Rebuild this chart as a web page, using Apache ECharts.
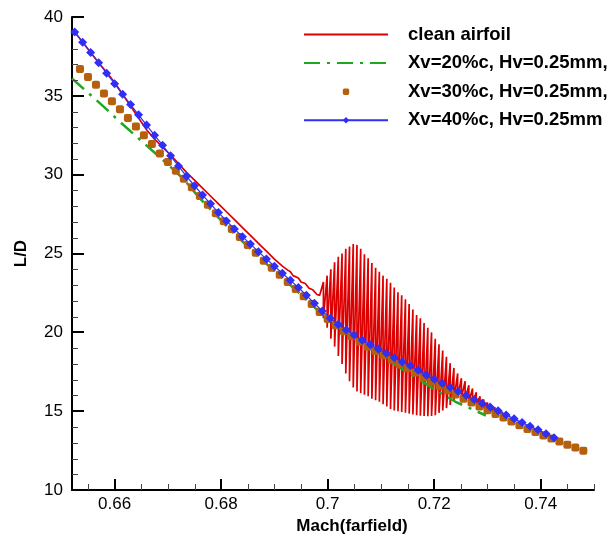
<!DOCTYPE html>
<html>
<head>
<meta charset="utf-8">
<script src="https://cdn.jsdelivr.net/npm/echarts@6/dist/echarts.min.js"></script>
<style>html,body{margin:0;padding:0;background:#fff}#c{width:614px;height:540px}</style>
</head>
<body>
<div id="c"></div>
<script>
const FONT = '"Liberation Sans", Arial, Helvetica, sans-serif';

const seriesNames = ['clean airfoil', 'Xv=20%c, Hv=0.25mm,', 'Xv=30%c, Hv=0.25mm,', 'Xv=40%c, Hv=0.25mm'];
const xTickValues = [0.66, 0.68, 0.70, 0.72, 0.74];
const yTickValues = [10, 15, 20, 25, 30, 35, 40];

// clean airfoil: smooth part
const machCleanSmooth = [0.6525,0.654,0.6555,0.657,0.6585,0.66,0.6615,0.663,0.6645,0.666,0.6675,0.669,0.6705,0.672,0.6735,0.675,0.6765,0.678,0.6795,0.681,0.6825,0.684,0.6855,0.687,0.6885,0.69,0.6915,0.6925,0.693,0.6935,0.6945,0.695,0.6958,0.6965,0.6972,0.698,0.6985];
const ldCleanSmooth = [39.05,38.4,37.75,37.1,36.5,35.85,35.1,34.35,33.6,32.85,32.25,31.75,31.25,30.7,30.15,29.65,29.15,28.65,28.15,27.65,27.15,26.65,26.15,25.65,25.15,24.65,24.2,23.95,23.85,23.6,23.45,23.2,23.1,22.8,22.7,22.4,22.35];
// clean airfoil: oscillating part (peak and trough at each Mach step)
const machCleanOsc = [0.6992,0.6999,0.7006,0.7013,0.7020,0.7027,0.7034,0.7041,0.7048,0.7055,
  0.7062,0.7069,0.7076,0.7083,0.7090,0.7097,0.7104,0.7111,0.7118,0.7125,
  0.7132,0.7139,0.7146,0.7153,0.7160,0.7167,0.7174,0.7181,0.7188,0.7195,
  0.7202,0.7209,0.7216,0.7223,0.7230,0.7237,0.7244,0.7251,0.7258,0.7265,
  0.7272,0.7279,0.7286,0.7293,0.7300,0.7307,0.7314,0.7321,0.7328,0.7335];
const ldCleanPeak = [23.2,23.6,24.0,24.45,24.8,25.0,25.3,25.45,25.6,25.55,
  25.3,24.95,24.7,24.4,24.1,23.85,23.6,23.4,23.15,22.85,
  22.55,22.35,22.1,21.8,21.45,21.1,20.9,20.6,20.3,20.0,
  19.6,19.25,18.85,18.45,18.05,17.75,17.4,17.1,16.9,16.65,
  16.45,16.2,15.95,15.75,15.55,15.35,15.25,15.1,14.95,14.85];
const ldCleanTrough = [20.9,20.3,19.6,19.1,18.5,18.0,17.4,16.9,16.5,16.25,
  16.15,16.05,15.95,15.8,15.7,15.6,15.45,15.3,15.15,15.05,
  15.0,14.95,14.9,14.85,14.8,14.75,14.72,14.7,14.68,14.7,
  14.75,14.9,15.05,15.2,15.4,15.7,15.9,15.85,15.75,15.6,
  15.5,15.4,15.3,15.2,15.1,15.0,14.95,14.85,14.75,14.7];

// Xv=20%c
const machXv20 = [0.652,0.655,0.658,0.661,0.664,0.667,0.670,0.673,0.676,0.679,0.682,0.685,0.688,0.691,0.694,0.697,0.700,0.703,0.706,0.709,0.712,0.715,0.718,0.721,0.724,0.727,0.7297];
const ldXv20 = [36.1,35.2,34.3,33.35,32.45,31.55,30.65,29.7,28.5,27.45,26.4,25.45,24.5,23.6,22.7,21.75,20.85,20.1,19.4,18.75,18.1,17.45,16.83,16.2,15.6,15.15,14.73];

// Xv=30%c
const machXv30 = [0.6535,0.655,0.6565,0.658,0.6595,0.661,0.6625,0.664,0.6655,0.667,
  0.6685,0.67,0.6715,0.673,0.6745,0.676,0.6775,0.679,0.6805,0.682,
  0.6835,0.685,0.6865,0.688,0.6895,0.691,0.6925,0.694,0.6955,0.697,
  0.6985,0.7,0.7015,0.703,0.7045,0.706,0.7075,0.709,0.7105,0.712,
  0.7135,0.715,0.7165,0.718,0.7195,0.721,0.7225,0.724,0.7255,0.727,
  0.7285,0.73,0.7315,0.733,0.7345,0.736,0.7375,0.739,0.7405,0.742,
  0.7435,0.745,0.7465,0.748];
const ldXv30 = [36.7,36.2,35.7,35.15,34.65,34.15,33.6,33.05,32.5,31.95,
  31.35,30.8,30.25,29.75,29.2,28.65,28.1,27.55,27.05,26.55,
  26.05,25.55,25.05,24.55,24.1,23.65,23.2,22.75,22.3,21.8,
  21.3,20.85,20.45,20.08,19.75,19.4,19.1,18.82,18.55,18.27,
  17.98,17.72,17.45,17.15,16.87,16.6,16.33,16.06,15.8,15.55,
  15.3,15.07,14.83,14.6,14.35,14.12,13.88,13.68,13.47,13.27,
  13.08,12.88,12.7,12.5];

// Xv=40%c
const machXv40 = [0.6525,0.654,0.6555,0.657,0.6585,0.66,0.6615,0.663,0.6645,0.666,
  0.6675,0.669,0.6705,0.672,0.6735,0.675,0.6765,0.678,0.6795,0.681,
  0.6825,0.684,0.6855,0.687,0.6885,0.69,0.6915,0.693,0.6945,0.696,
  0.6975,0.699,0.7005,0.702,0.7035,0.705,0.7065,0.708,0.7095,0.711,
  0.7125,0.714,0.7155,0.717,0.7185,0.72,0.7215,0.723,0.7245,0.726,
  0.7275,0.729,0.7305,0.732,0.7335,0.735,0.7365,0.738,0.7395,0.741,
  0.7425];
const ldXv40 = [39.05,38.4,37.75,37.1,36.43,35.77,35.1,34.45,33.8,33.15,
  32.5,31.87,31.2,30.55,29.9,29.3,28.72,28.15,27.6,27.07,
  26.55,26.07,25.6,25.12,24.65,24.2,23.75,23.3,22.85,22.35,
  21.85,21.35,20.9,20.5,20.15,19.83,19.5,19.22,18.95,18.67,
  18.4,18.13,17.88,17.6,17.3,17.03,16.77,16.5,16.25,16.0,
  15.75,15.5,15.27,15.03,14.77,14.52,14.28,14.05,13.82,13.58,
  13.32];

function zip(xs, ys) {
  const n = Math.min(xs.length, ys.length);
  const out = [];
  for (let i = 0; i < n; i++) out.push([xs[i], ys[i]]);
  return out;
}
const cleanData = zip(machCleanSmooth, ldCleanSmooth);
for (let i = 0; i < machCleanOsc.length; i++) {
  cleanData.push([machCleanOsc[i], ldCleanPeak[i]]);
  cleanData.push([machCleanOsc[i], ldCleanTrough[i]]);
}

const RED = '#dd0000', GREEN = '#1fa81f', BROWN = '#b5600f', BLUE = '#2f2ff5';
const X_MIN = 0.652, X_MAX = 0.750;

const chart = echarts.init(document.getElementById('c'), null, {renderer: 'canvas'});
chart.setOption({
  animation: false,
  backgroundColor: '#fff',
  textStyle: {fontFamily: FONT},
  grid: {left: 72, right: 20, top: 17, bottom: 47, containLabel: false},
  legend: {
    orient: 'vertical',
    left: 303,
    top: 25,
    padding: 0,
    itemWidth: 84,
    itemHeight: 8,
    itemGap: 9.6,
    selectedMode: false,
    textStyle: {fontFamily: FONT, fontSize: 18.5, fontWeight: 'bold', color: '#000', padding: [0, 0, 0, 15]},
    data: [
      {name: seriesNames[0], itemStyle: {opacity: 0}},
      {name: seriesNames[1], itemStyle: {opacity: 0}},
      {name: seriesNames[2], lineStyle: {opacity: 0}},
      {name: seriesNames[3]}
    ]
  },
  xAxis: {
    type: 'value',
    min: X_MIN,
    max: X_MAX,
    name: 'Mach(farfield)',
    nameLocation: 'middle',
    nameGap: 24,
    nameTextStyle: {fontFamily: FONT, fontSize: 17, fontWeight: 'bold', color: '#000', padding: [0, 0, 0, 38]},
    axisLine: {lineStyle: {color: '#000', width: 2}},
    axisTick: {show: false},
    minorTick: {show: false},
    axisLabel: {fontFamily: FONT, fontSize: 17, color: '#000', margin: 6, showMinLabel: false, showMaxLabel: false,
      formatter: function (v) { return xTickValues.some(t => Math.abs(t - v) < 1e-9) ? String(Math.round(v * 100) / 100) : ''; }},
    splitLine: {show: false}
  },
  yAxis: {
    type: 'value',
    min: yTickValues[0],
    max: yTickValues[yTickValues.length - 1],
    interval: 5,
    name: 'L/D',
    nameLocation: 'middle',
    nameGap: 42,
    nameTextStyle: {fontFamily: FONT, fontSize: 17, fontWeight: 'bold', color: '#000'},
    axisLine: {show: true, lineStyle: {color: '#000', width: 2}},
    axisTick: {show: false},
    minorTick: {show: false},
    axisLabel: {fontFamily: FONT, fontSize: 17, color: '#000', margin: 9},
    splitLine: {show: false}
  },
  series: [
    {
      name: seriesNames[0], type: 'line', data: cleanData,
      showSymbol: false, symbol: 'circle', symbolSize: 0,
      lineStyle: {color: RED, width: 1.7}, itemStyle: {color: RED},
      emphasis: {disabled: true}, z: 2
    },
    {
      name: seriesNames[1], type: 'line', data: zip(machXv20, ldXv20),
      showSymbol: false, symbol: 'circle', symbolSize: 0,
      lineStyle: {color: GREEN, width: 2.5, type: [16, 7, 3, 7]}, itemStyle: {color: GREEN},
      emphasis: {disabled: true}, z: 3
    },
    {
      name: seriesNames[2], type: 'line', data: zip(machXv30, ldXv30),
      showSymbol: true, showAllSymbol: true, symbol: 'roundRect', symbolSize: 8,
      lineStyle: {opacity: 0, width: 0}, itemStyle: {color: BROWN},
      emphasis: {disabled: true}, z: 4
    },
    {
      name: seriesNames[3], type: 'line', data: zip(machXv40, ldXv40),
      showSymbol: true, showAllSymbol: true, symbol: 'diamond', symbolSize: 9,
      lineStyle: {color: BLUE, width: 1.2}, itemStyle: {color: BLUE},
      emphasis: {disabled: true}, z: 5
    }
  ]
});

// Inward-pointing major/minor ticks, placed through the chart's own axes.
(function drawTicks() {
  const els = [];
  const y0 = yTickValues[0];
  function xTick(v, len, w, c) {
    const p = chart.convertToPixel({gridIndex: 0}, [v, y0]);
    const x = Math.round(p[0]) + (w % 2 ? 0.5 : 0);
    els.push({type: 'rect', silent: true, z: 50,
      shape: {x: x - w / 2, y: p[1] - len, width: w, height: len},
      style: {fill: c}});
  }
  function yTick(v, len, w, c) {
    const p = chart.convertToPixel({gridIndex: 0}, [X_MIN, v]);
    const y = Math.round(p[1]) + (w % 2 ? 0.5 : 0);
    els.push({type: 'rect', silent: true, z: 50,
      shape: {x: p[0], y: y - w / 2, width: len, height: w},
      style: {fill: c}});
  }
  for (let m = Math.ceil(X_MIN / 0.005 + 1e-6); m * 0.005 <= X_MAX + 1e-9; m++) {
    const v = m * 0.005;
    if (xTickValues.some(t => Math.abs(t - v) < 1e-9)) continue;
    xTick(v, 6, 1, '#444');
  }
  xTickValues.forEach(v => xTick(v, 11, 2, '#000'));
  for (let v = yTickValues[0] + 1; v < yTickValues[yTickValues.length - 1]; v++) {
    if (yTickValues.indexOf(v) >= 0) continue;
    yTick(v, 6, 1, '#444');
  }
  yTickValues.forEach(v => { if (v !== y0) yTick(v, 12, 2, '#000'); });
  chart.setOption({graphic: {elements: els}});
})();
</script>
</body>
</html>
